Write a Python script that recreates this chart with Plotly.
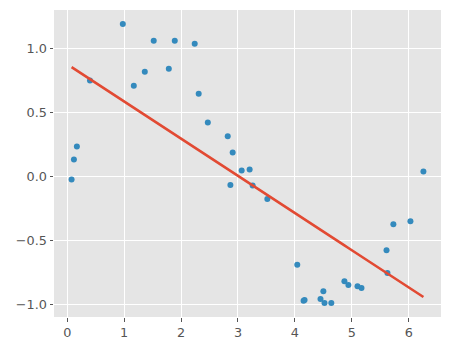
import numpy as np
import plotly.graph_objects as go

x_vals = [0.077, 0.118, 0.17, 0.40, 0.977, 1.17, 1.363, 1.52, 1.785, 1.89, 2.24, 2.31,
          2.47, 2.82, 2.867, 2.907, 3.065, 3.205, 3.258, 3.516, 4.042, 4.153, 4.17,
          4.45, 4.50, 4.52, 4.64, 4.87, 4.94, 5.10, 5.17, 5.61, 5.626, 5.73, 6.03, 6.258]
y_vals = [-0.022, 0.134, 0.235, 0.751, 1.192, 0.710, 0.819, 1.06, 0.842, 1.06, 1.037, 0.647,
          0.422, 0.315, -0.066, 0.188, 0.048, 0.056, -0.069, -0.175, -0.689, -0.969, -0.964,
          -0.956, -0.894, -0.987, -0.987, -0.816, -0.847, -0.855, -0.870, -0.575, -0.753,
          -0.372, -0.349, 0.040]

x_ticks = [0, 1, 2, 3, 4, 5, 6]
y_ticks = [-1.0, -0.5, 0.0, 0.5, 1.0]

xa = np.array(x_vals)
ya = np.array(y_vals)
b, a = np.polyfit(xa, ya, 1)
fit_y = a + b * xa

fig = go.Figure()
fig.add_trace(go.Scatter(x=x_vals, y=y_vals, mode="markers",
                         marker=dict(color="#348ABD", size=6, line=dict(width=0)),
                         showlegend=False))
fig.add_trace(go.Scatter(x=x_vals, y=fit_y, mode="lines",
                         line=dict(color="#E24A33", width=2.6), showlegend=False))

axis_common = dict(showgrid=True, gridcolor="white", gridwidth=1, zeroline=False,
                   ticks="outside", ticklen=3.5, tickwidth=1, tickcolor="#555555",
                   tickfont=dict(family="DejaVu Sans", size=12.8, color="#555555"),
                   showline=False)
fig.update_xaxes(range=[-0.232, 6.567], tickvals=x_ticks, **axis_common)
fig.update_yaxes(range=[-1.096, 1.301], tickvals=y_ticks, tickformat=".1f", **axis_common)

fig.update_layout(width=450, height=351, margin=dict(l=54, r=9, t=10, b=34),
                  plot_bgcolor="#E5E5E5", paper_bgcolor="white")
fig.write_html("out.html")
